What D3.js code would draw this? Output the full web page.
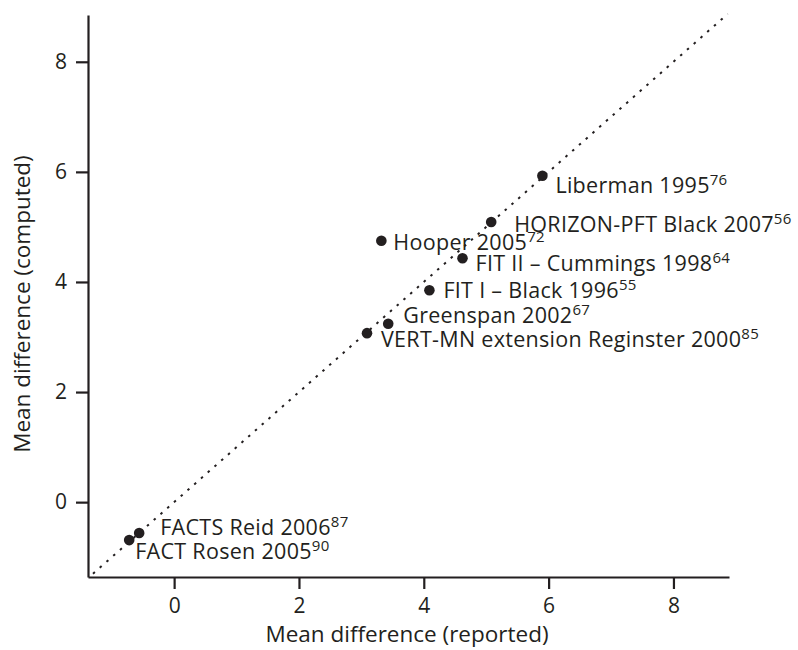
<!DOCTYPE html>
<html>
<head>
<meta charset="utf-8">
<script src="https://cdn.jsdelivr.net/npm/d3@7"></script>
<style>
  html, body { margin: 0; padding: 0; background: #fff; }
  svg text { font-family: "Open Sans", "Noto Sans", sans-serif; fill: #231f20; }
</style>
</head>
<body>
<svg id="chart" width="798" height="650"></svg>
<script>
// Study labels, reference numbers and the two mean differences
const studies = ["Liberman 1995", "HORIZON-PFT Black 2007", "Hooper 2005", "FIT II – Cummings 1998",
                 "FIT I – Black 1996", "Greenspan 2002", "VERT-MN extension Reginster 2000",
                 "FACTS Reid 2006", "FACT Rosen 2005"];
const refs = ["76", "56", "72", "64", "55", "67", "85", "87", "90"];
const reported = [5.90, 5.08, 3.32, 4.62, 4.09, 3.43, 3.09, -0.56, -0.72];
const computed = [5.93, 5.09, 4.75, 4.43, 3.85, 3.24, 3.07, -0.56, -0.69];
const xTicks = [0, 2, 4, 6, 8];
const yTicks = [0, 2, 4, 6, 8];
const lineOfEquality = [-1.3, 8.87];

// label placement relative to each point (px)
const labelOffsets = [[13, 17], [23, 10], [12, 9], [13, 13], [14, 8], [15, -1], [14, 14], [21, 2], [6, 19]];

const svg = d3.select("#chart");
const x = d3.scaleLinear().domain([-1.38, 8.89]).range([88, 729]);
const y = d3.scaleLinear().domain([-1.36, 8.85]).range([577, 15]);

const ink = "#231f20";

// axes
const xAxis = svg.append("g").attr("transform", `translate(0,${y.range()[0]})`)
  .call(d3.axisBottom(x).tickValues(xTicks).tickSize(12).tickPadding(9).tickSizeOuter(0));
const yAxis = svg.append("g").attr("transform", `translate(${x.range()[0]},0)`)
  .call(d3.axisLeft(y).tickValues(yTicks).tickSize(12).tickPadding(9).tickSizeOuter(0));
[xAxis, yAxis].forEach(g => {
  g.select(".domain").attr("stroke", ink).attr("stroke-width", 2.2);
  g.selectAll(".tick line").attr("stroke", ink).attr("stroke-width", 2.2);
  g.selectAll(".tick text").style("font-size", "21px").attr("fill", ink);
});

// dotted line of equality
svg.append("line")
  .attr("x1", x(lineOfEquality[0])).attr("y1", y(lineOfEquality[0]))
  .attr("x2", x(lineOfEquality[1])).attr("y2", y(lineOfEquality[1]))
  .attr("stroke", ink).attr("stroke-width", 2).attr("stroke-dasharray", "2.5,6.5");

// points
svg.append("g").selectAll("circle").data(studies).join("circle")
  .attr("cx", (d, i) => x(reported[i]))
  .attr("cy", (d, i) => y(computed[i]))
  .attr("r", 5.3).attr("fill", ink);

// labels with superscript reference numbers
const labels = svg.append("g").selectAll("text").data(studies).join("text")
  .attr("x", (d, i) => x(reported[i]) + labelOffsets[i][0])
  .attr("y", (d, i) => y(computed[i]) + labelOffsets[i][1])
  .style("font-size", "21.5px").style("letter-spacing", "0.3px");
labels.append("tspan").text(d => d);
labels.append("tspan").attr("dy", -8).style("font-size", "15px").text((d, i) => refs[i]);

// axis titles
svg.append("text")
  .attr("x", 407).attr("y", 642).attr("text-anchor", "middle")
  .style("font-size", "22.5px").text("Mean difference (reported)");
svg.append("text")
  .attr("transform", "translate(30,304) rotate(-90)").attr("text-anchor", "middle")
  .style("font-size", "22.5px").text("Mean difference (computed)");
</script>
</body>
</html>
